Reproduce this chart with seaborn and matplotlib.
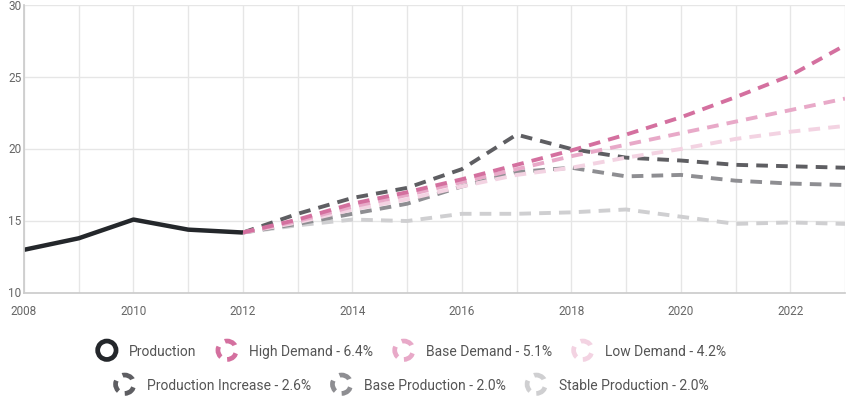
import numpy as np
import pandas as pd
import matplotlib
matplotlib.use("Agg")
import matplotlib.pyplot as plt
import matplotlib.patches as mpatches
from matplotlib.legend_handler import HandlerPatch
import seaborn as sns

# ---- data ----
years_hist = [2008, 2009, 2010, 2011, 2012]
production = [13.0, 13.8, 15.1, 14.4, 14.2]

years_proj = list(range(2012, 2024))
high_demand = [14.2, 15.1, 16.2, 17.0, 17.9, 18.9, 19.9, 21.0, 22.2, 23.6, 25.1, 27.2]
base_demand = [14.2, 15.0, 16.0, 16.8, 17.7, 18.6, 19.5, 20.3, 21.1, 21.9, 22.7, 23.5]
low_demand = [14.2, 14.9, 15.8, 16.5, 17.4, 18.2, 18.7, 19.4, 20.0, 20.7, 21.2, 21.6]
production_increase = [14.2, 15.5, 16.6, 17.3, 18.6, 21.0, 20.0, 19.4, 19.2, 18.9, 18.8, 18.7]
base_production = [14.2, 14.8, 15.5, 16.2, 17.4, 18.4, 18.7, 18.1, 18.2, 17.8, 17.6, 17.5]
stable_production = [14.2, 14.7, 15.1, 15.0, 15.5, 15.5, 15.6, 15.8, 15.3, 14.8, 14.9, 14.8]

labels = ["Production", "High Demand - 6.4%", "Base Demand - 5.1%", "Low Demand - 4.2%",
          "Production Increase - 2.6%", "Base Production - 2.0%", "Stable Production - 2.0%"]
colors = ["#24272b", "#d4709f", "#e8a9c8", "#f3d3e2", "#5e5e62", "#8e8e92", "#cfcfd1"]

sns.set_theme(style="white")
plt.rcParams['font.family'] = ['Roboto', 'DejaVu Sans']

fig = plt.figure(figsize=(8.46, 4.02), dpi=100)
ax = fig.add_axes([24/846, 1 - 294/402, (845-24)/846, (294-6)/402])

proj_series = [high_demand, base_demand, low_demand, production_increase, base_production, stable_production]
# draw order: light first
order = [5, 4, 3, 2, 1, 0]
for i in order:
    df = pd.DataFrame({"year": years_proj, "value": proj_series[i]})
    sns.lineplot(data=df, x="year", y="value", ax=ax, color=colors[i + 1],
                 linewidth=2.8, dashes=False)
    ax.lines[-1].set_dashes((3, 2.1))

dfp = pd.DataFrame({"year": years_hist, "value": production})
sns.lineplot(data=dfp, x="year", y="value", ax=ax, color=colors[0], linewidth=3.2)
ax.lines[-1].set_solid_capstyle("butt")

ax.set_xlim(2008, 2023)
ax.set_ylim(10, 30)
ax.set_xticks(range(2008, 2024, 2))
ax.set_xticks(range(2008, 2024), minor=True)
ax.set_yticks([10, 15, 20, 25, 30])
ax.set_xlabel("")
ax.set_ylabel("")
ax.grid(True, which="both", axis="x", color="#e6e6e6", linewidth=1)
ax.grid(True, which="major", axis="y", color="#e6e6e6", linewidth=1)
for s in ["top", "right"]:
    ax.spines[s].set_visible(False)
ax.spines["left"].set_color("#cccccc")
ax.spines["bottom"].set_color("#cccccc")
ax.tick_params(axis="x", which="both", length=6, color="#e6e6e6", labelsize=8.5,
               labelcolor="#666666", pad=2)
ax.tick_params(axis="y", length=0, labelsize=8.5, labelcolor="#666666", pad=2)
for lbl in ax.get_yticklabels():
    lbl.set_verticalalignment("center")


class HandlerRing(HandlerPatch):
    def create_artists(self, legend, orig_handle, xdescent, ydescent, width, height, fontsize, trans):
        cx = 0.5 * width - xdescent
        cy = 0.5 * height - ydescent
        r = 0.74 * height
        p = mpatches.Circle((cx, cy), r, facecolor="none",
                            edgecolor=orig_handle.get_edgecolor(),
                            linewidth=orig_handle.get_linewidth(),
                            linestyle=orig_handle.get_linestyle())
        p.set_transform(trans)
        return [p]


def make_handle(i):
    if i == 0:
        return mpatches.Patch(facecolor="none", edgecolor=colors[0], linewidth=3.4, label=labels[0])
    return mpatches.Patch(facecolor="none", edgecolor=colors[i], linewidth=3.4,
                          linestyle=(0, (2.4, 1.8)), label=labels[i])


hmap = {mpatches.Patch: HandlerRing()}
row1 = [make_handle(i) for i in range(4)]
row2 = [make_handle(i) for i in range(4, 7)]
common = dict(frameon=False, fontsize=10, handler_map=hmap, handlelength=1.3,
              handleheight=1.0, handletextpad=0.95, columnspacing=1.55,
              labelcolor="#555555", loc="center")
leg1 = fig.legend(handles=row1, ncol=4, bbox_to_anchor=(412/846, 1 - 352/402), **common)
leg2 = fig.legend(handles=row2, ncol=3, bbox_to_anchor=(412/846, 1 - 386/402), **common)

fig.savefig("out.png", dpi=100)
